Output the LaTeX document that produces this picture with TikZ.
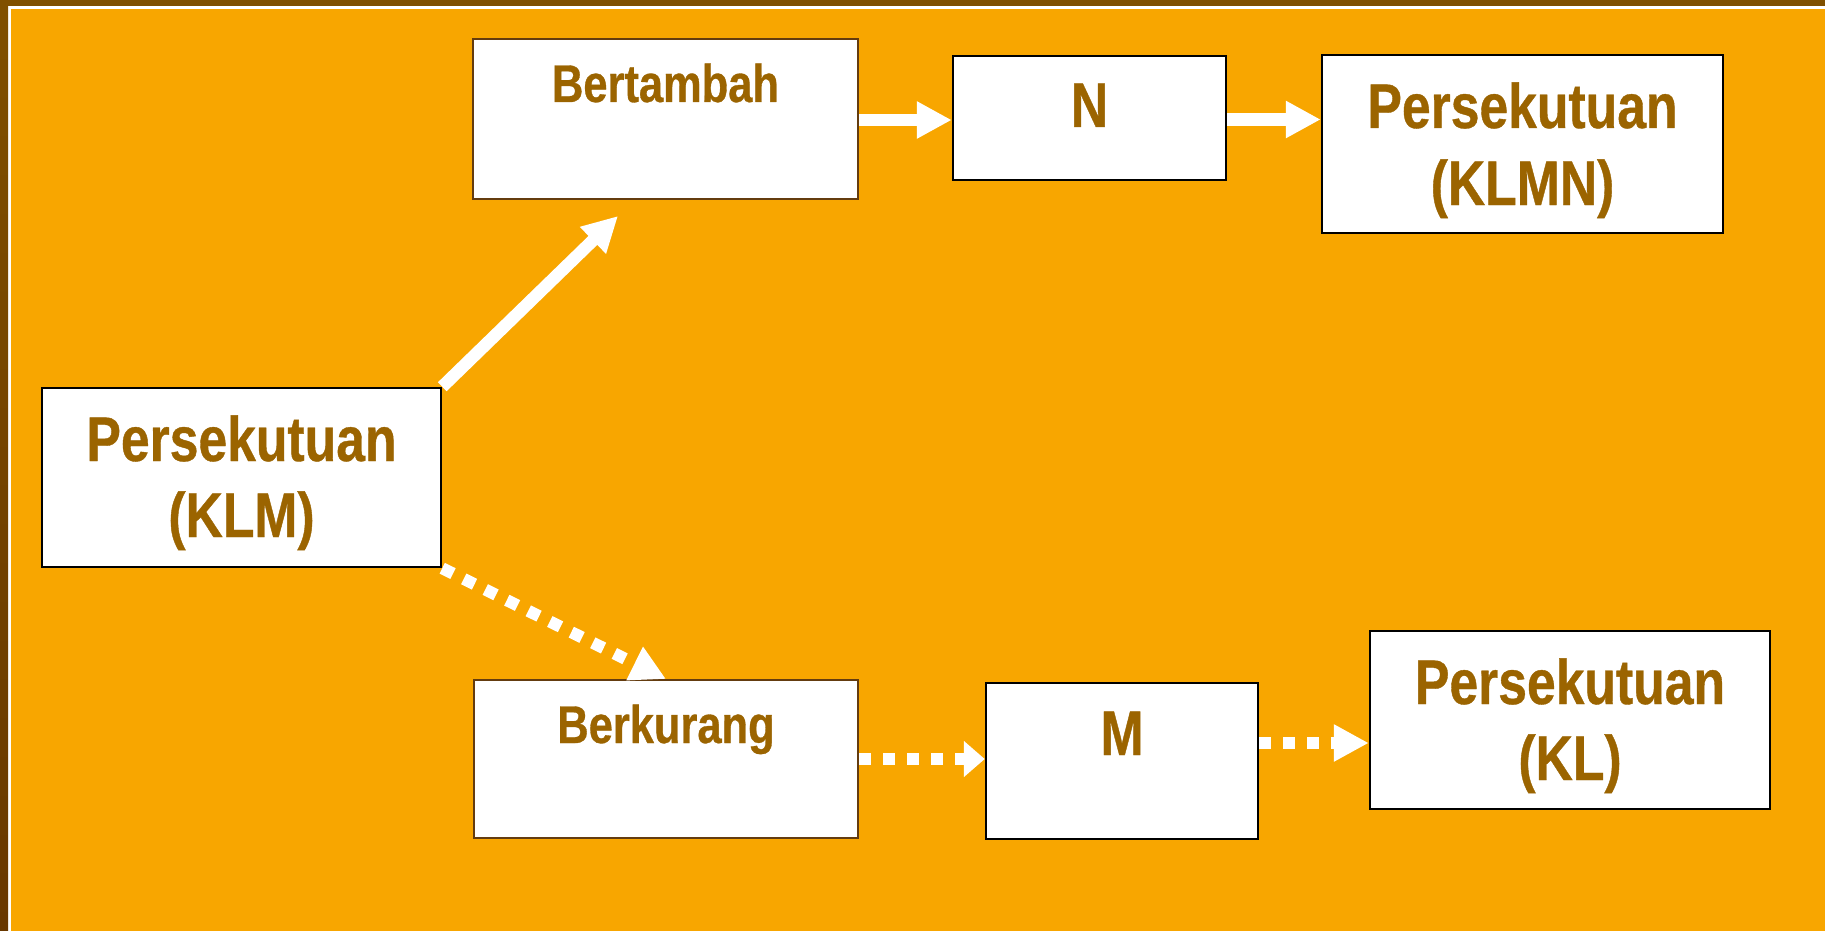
\documentclass[tikz,border=0pt]{standalone}
\usepackage{fontspec}
\newfontfamily\labfont{Liberation Sans}[FakeStretch=0.82,FakeBold=0.6]
\usetikzlibrary{arrows.meta}
\definecolor{bg}{RGB}{248,166,0}
\definecolor{frametop}{RGB}{128,80,0}
\definecolor{framedark}{RGB}{104,56,0}
\definecolor{txt}{RGB}{155,100,0}
\definecolor{bbrown}{RGB}{100,60,15}
\begin{document}
\begin{tikzpicture}[x=1pt,y=-1pt,
  box/.style={draw=black, fill=white, line width=2.5pt, inner sep=0pt, rectangle},
  brownbox/.style={box, draw=bbrown},
  bigtxt/.style={anchor=base, inner sep=0pt, text=txt, font=\labfont\bfseries\fontsize{63}{76}\selectfont},
  midtxt/.style={anchor=base, inner sep=0pt, text=txt, font=\labfont\bfseries\fontsize{53}{64}\selectfont},
  solidarrow/.style={draw=white, line width=12.5pt, -{Triangle[length=35pt,width=35pt]}},
  dotarrow/.style={solidarrow, line width=12pt, dash pattern=on 12pt off 12pt},
  dotarrowshort/.style={draw=white, line width=12pt, dash pattern=on 12pt off 12pt, -{Triangle[length=21pt,width=35pt]}}
]
\useasboundingbox (0,0) rectangle (1825,931);
\fill[bg] (0,0) rectangle (1825,931);
\fill[white] (8,6) rectangle (1825,9);
\fill[white] (8,6) rectangle (11,931);
\fill[frametop] (0,0) rectangle (1825,6);
\shade[top color=frametop, bottom color=framedark] (0,0) rectangle (8,931);

% boxes
\node[box, minimum width=399pt, minimum height=179pt] (klm) at (241.5,477.5) {};
\node[brownbox, minimum width=385pt, minimum height=160pt] (bert) at (665.5,119) {};
\node[box, minimum width=273pt, minimum height=124pt] (n) at (1089.5,118) {};
\node[box, minimum width=401pt, minimum height=178pt] (klmn) at (1522.5,144) {};
\node[brownbox, minimum width=384pt, minimum height=158pt] (berk) at (666,759) {};
\node[box, minimum width=272pt, minimum height=156pt] (m) at (1122,761) {};
\node[box, minimum width=400pt, minimum height=178pt] (kl) at (1570,720) {};

% texts
\node[bigtxt] (klm1) at (241.5,461) {Persekutuan};
\node[bigtxt] (klm2) at (241.5,537) {(KLM)};
\node[bigtxt] (klmn1) at (1522.5,128) {Persekutuan};
\node[bigtxt] (klmn2) at (1522.5,205) {(KLMN)};
\node[bigtxt] (kl1) at (1570,704) {Persekutuan};
\node[bigtxt] (kl2) at (1570,780) {(KL)};
\node[midtxt] (bert1) at (665.5,102) {Bertambah};
\node[midtxt] (berk1) at (666,743) {Berkurang};
\node[bigtxt] (n1) at (1089.5,127) {N};
\node[bigtxt] (m1) at (1122,755) {M};

% connectors
\coordinate (t1) at (618,216);
\coordinate (t4) at (666,679);
\draw[solidarrow] (klm.north east) -- (t1);
\draw[solidarrow] ([yshift=-1pt]bert.east) -- ([yshift=-1pt]bert.east -| n.west);
\draw[solidarrow] ([yshift=-1.5pt]n.east) -- ([yshift=-1.5pt]n.east -| klmn.west);
\draw[dotarrow] (klm.south east) -- (t4);
\draw[dotarrowshort] (berk.east) -- (berk.east -| m.west);
\draw[dotarrow] ([yshift=18pt]m.east) -- ([yshift=18pt]m.east -| kl.west);
\end{tikzpicture}
\end{document}
